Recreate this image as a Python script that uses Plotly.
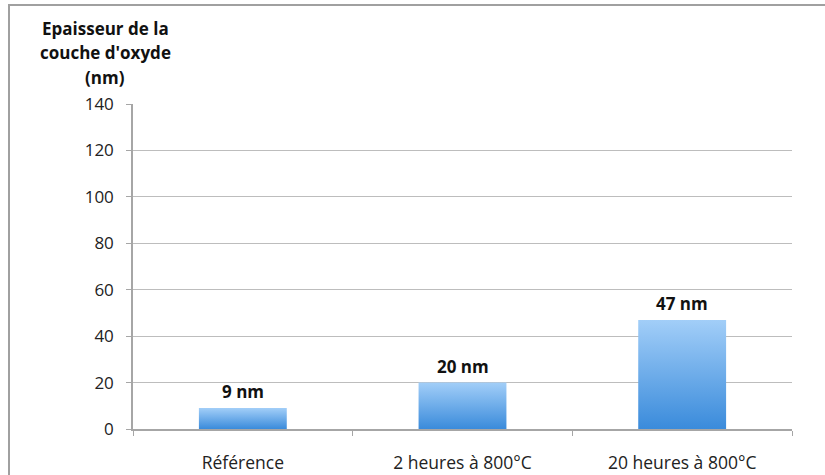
import plotly.graph_objects as go

categories = ["Référence", "2 heures à 800°C", "20 heures à 800°C"]
values = [9, 20, 47]
labels = ["9 nm", "20 nm", "47 nm"]
y_ticks = [0, 20, 40, 60, 80, 100, 120, 140]
y_title_lines = ["Epaisseur de la", "couche d'oxyde", "(nm)"]

FONT = "Open Sans"
half = 0.2  # half bar width in category units
L, R, T, B = 133, 33, 104, 46
PW, PH = 825 - L - R, 475 - T - B


def px_x(x):
    return (x - L) / PW


def px_y(y):
    return (475 - B - y) / PH


fig = go.Figure()
for i, v in enumerate(values):
    fig.add_trace(go.Scatter(
        x=[i - half, i + half, i + half, i - half, i - half],
        y=[0, 0, v, v, 0],
        mode="lines", line=dict(width=0), fill="toself",
        fillgradient=dict(type="vertical", start=0, stop=v,
                          colorscale=[[0, "#3a8bdb"], [1, "#a2cef8"]]),
        hoverinfo="skip", showlegend=False,
    ))

annotations = []
for i, (v, lab) in enumerate(zip(values, labels)):
    annotations.append(dict(
        text=lab, x=i, y=v, xref="x", yref="y",
        xanchor="center", yanchor="bottom", yshift=3, showarrow=False,
        font=dict(family=FONT, size=17, color="#111", weight="bold"),
    ))

for k, line in enumerate(y_title_lines):
    annotations.append(dict(
        text=line, xref="paper", yref="paper",
        x=px_x(105), y=px_y(28 + 25 * k), xanchor="center", yanchor="middle",
        showarrow=False,
        font=dict(family=FONT, size=17, color="#111", weight="bold"),
    ))

fig.update_layout(
    width=825, height=475,
    margin=dict(l=L, r=R, t=T, b=B),
    paper_bgcolor="white", plot_bgcolor="white",
    font=dict(family=FONT, size=17, color="#333"),
    showlegend=False,
    xaxis=dict(
        range=[-0.5, len(categories) - 0.5],
        tickvals=list(range(len(categories))), ticktext=categories,
        ticks="", showgrid=False, zeroline=False,
        showline=True, linecolor="#a6a6a6", linewidth=1.5,
        ticklabelstandoff=17, automargin=False,
        minor=dict(tickvals=[k - 0.5 for k in range(len(categories) + 1)],
                   ticks="outside", ticklen=5, tickcolor="#a6a6a6", showgrid=False),
        tickfont=dict(family=FONT, size=17.5, color="#222"),
        fixedrange=True,
    ),
    yaxis=dict(
        range=[0, 140], tickvals=y_ticks,
        showgrid=True, gridcolor="#bdbdbd", gridwidth=1.2,
        zeroline=False, showline=True, linecolor="#a6a6a6", linewidth=1.5,
        ticks="outside", ticklen=5, tickcolor="#a6a6a6",
        ticklabelstandoff=9, automargin=False,
        tickfont=dict(family=FONT, size=17, color="#222"),
        fixedrange=True,
    ),
    annotations=annotations,
    shapes=[dict(
        type="rect", xref="paper", yref="paper",
        x0=px_x(9), x1=1.2, y0=-0.3, y1=px_y(5),
        line=dict(color="#a0a0a0", width=2), fillcolor="rgba(0,0,0,0)", layer="below",
    )],
)

fig.write_html("out.html", config={"displayModeBar": False},
               post_script="document.body.style.margin='0';")
